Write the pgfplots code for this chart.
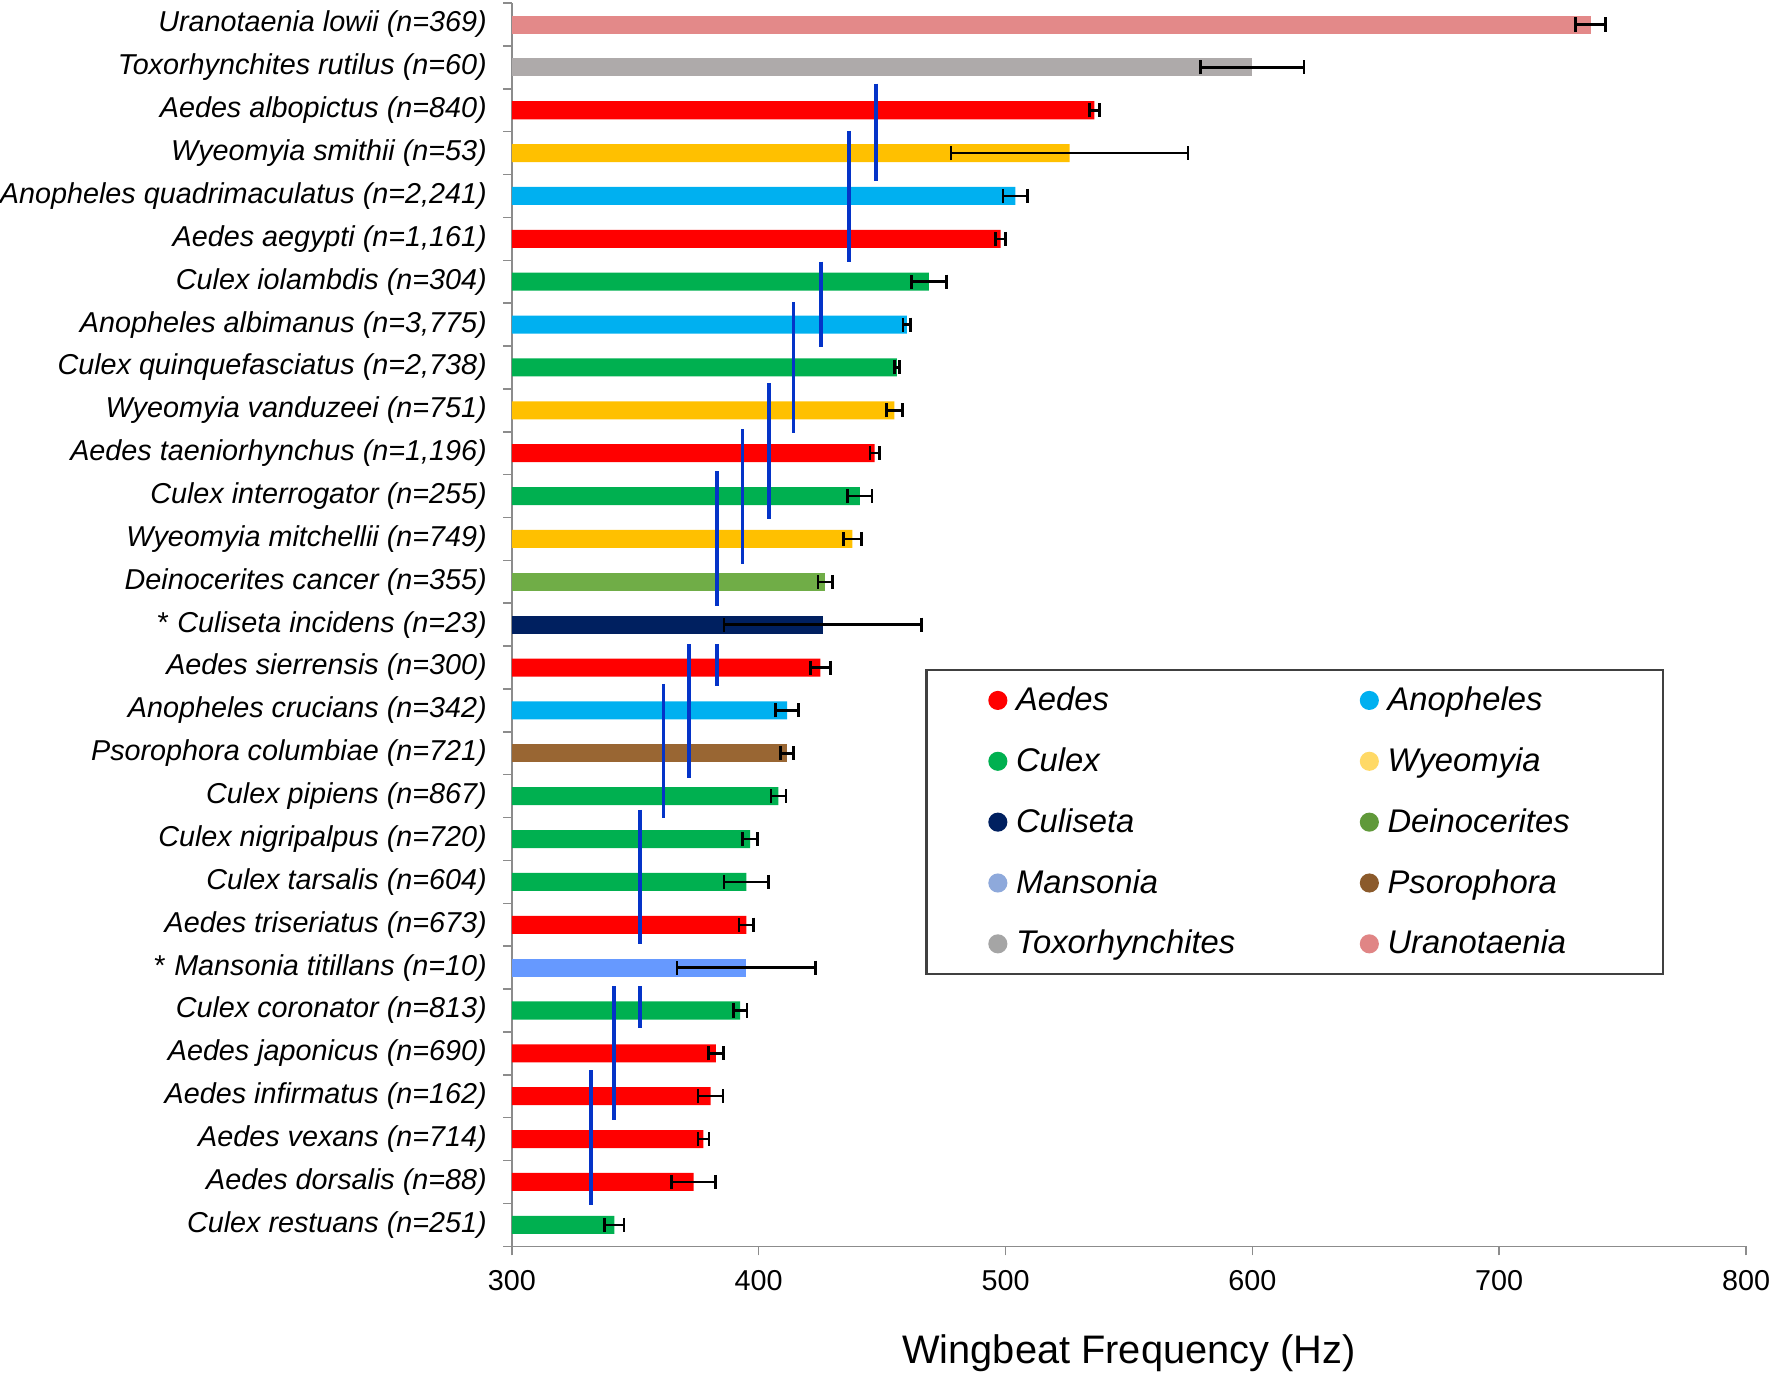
\documentclass[border=0pt]{standalone}
\usepackage{fontspec}
\setmainfont{Liberation Sans}
\usepackage{pgfplots}
\pgfplotsset{compat=1.18}
% bar colours
\definecolor{aedes}{HTML}{FF0000}
\definecolor{anoph}{HTML}{00B0F0}
\definecolor{culex}{HTML}{00B050}
\definecolor{wyeo}{HTML}{FFC000}
\definecolor{culis}{HTML}{002060}
\definecolor{deino}{HTML}{70AD47}
\definecolor{manso}{HTML}{6699FF}
\definecolor{psoro}{HTML}{996633}
\definecolor{toxo}{HTML}{AEAAAA}
\definecolor{urano}{HTML}{E38989}
% legend dots
\definecolor{wyeoL}{HTML}{FFD966}
\definecolor{deinoL}{HTML}{60993A}
\definecolor{mansoL}{HTML}{8EA9DB}
\definecolor{psoroL}{HTML}{8B5A2B}
\definecolor{toxoL}{HTML}{A5A5A5}
\definecolor{uranoL}{HTML}{E08585}
\definecolor{grpblue}{HTML}{0433C8}
\definecolor{axgray}{HTML}{8C8C8C}
\definecolor{legframe}{HTML}{404040}

\pgfplotsset{
  gbar/.style={xbar, bar shift=0pt, bar width=0.42, draw=none, fill=#1, forget plot,
    error bars/.cd, x dir=both, x explicit,
    error bar style={line width=0.75pt, black},
    error mark options={rotate=90, line width=0.75pt, black, mark size=2.1pt}},
  grpline/.style={grpblue, line width=1.1pt, forget plot},
  ldot/.style={legend image code/.code={\fill[#1] (2.5pt,0pt) circle[radius=2.5pt];}},
}

\begin{document}
\begin{tikzpicture}
\begin{axis}[
  width=369.1pt, height=371.8pt, scale only axis,
  xmin=300, xmax=800, ymin=-0.5, ymax=28.5,
  axis x line*=bottom, axis y line*=left,
  x axis line style={-, line width=0.45pt, color=axgray},
  y axis line style={-, line width=0.45pt, color=axgray},
  tick align=outside,
  major tick length=2.7pt, minor tick length=2.5pt,
  xtick={300,400,...,800},
  x tick style={axgray, line width=0.45pt},
  /pgf/number format/assume math mode=true,
  xticklabel style={font=\fontsize{8.6}{10}\selectfont, inner xsep=0pt, yshift=-0.95pt},
  ytick={0,...,28},
  minor ytick={-0.5,0.5,...,28.5},
  major y tick style={draw=none},
  minor y tick style={axgray, line width=0.45pt},
  yticklabel style={font=\fontsize{8.6}{10}\selectfont\itshape, inner xsep=0pt, xshift=-4.6pt},
  yticklabels={
    {Culex restuans (n=251)},
    {Aedes dorsalis (n=88)},
    {Aedes vexans (n=714)},
    {Aedes infirmatus (n=162)},
    {Aedes japonicus (n=690)},
    {Culex coronator (n=813)},
    {{\upshape *}\hspace{0.3em}Mansonia titillans (n=10)},
    {Aedes triseriatus (n=673)},
    {Culex tarsalis (n=604)},
    {Culex nigripalpus (n=720)},
    {Culex pipiens (n=867)},
    {Psorophora columbiae (n=721)},
    {Anopheles crucians (n=342)},
    {Aedes sierrensis (n=300)},
    {{\upshape *}\hspace{0.3em}Culiseta incidens (n=23)},
    {Deinocerites cancer (n=355)},
    {Wyeomyia mitchellii (n=749)},
    {Culex interrogator (n=255)},
    {Aedes taeniorhynchus (n=1,196)},
    {Wyeomyia vanduzeei (n=751)},
    {Culex quinquefasciatus (n=2,738)},
    {Anopheles albimanus (n=3,775)},
    {Culex iolambdis (n=304)},
    {Aedes aegypti (n=1,161)},
    {Anopheles quadrimaculatus (n=2,241)},
    {Wyeomyia smithii (n=53)},
    {Aedes albopictus (n=840)},
    {Toxorhynchites rutilus (n=60)},
    {Uranotaenia lowii (n=369)}},
  xlabel={Wingbeat Frequency (Hz)},
  xlabel style={font=\fontsize{11.9}{14}\selectfont, inner ysep=1.35pt, at={(axis description cs:0.5,0)}, anchor=center, yshift=-32pt},
  legend columns=2,
  legend cell align=left,
  legend style={at={(0.335,0.4645)}, anchor=north west, draw=legframe, line width=0.7pt, fill=white,
    inner xsep=18.5pt, inner ysep=4.5pt, column sep=0pt, row sep=9pt,
    font=\fontsize{9.8}{11}\selectfont\itshape,
    nodes={inner xsep=2.6pt, inner ysep=0pt, text height=7.6pt, text depth=1.6pt, text width=100.2pt, align=left},
    /tikz/column 4/.style={nodes={text width=61.2pt}}},
]
% Aedes
\addplot[gbar=aedes] table[x=f, y=y, x error=e] {
f y e
536 26 2
498 23 2
447 18 2
425 13 4
395 7 3
382.7 4 3
380.5 3 5
377.6 2 2.2
373.6 1 9
};
% Anopheles
\addplot[gbar=anoph] table[x=f, y=y, x error=e] {
f y e
504 24 5
460 21 1.5
411.5 12 4.7
};
% Culex
\addplot[gbar=culex] table[x=f, y=y, x error=e] {
f y e
469 22 7
456 20 1
441 17 5
408 10 3
396.5 9 3
395 8 9
392.5 5 2.8
341.5 0 4
};
% Wyeomyia
\addplot[gbar=wyeo] table[x=f, y=y, x error=e] {
f y e
526 25 48
455 19 3.3
438 16 3.7
};
% Culiseta
\addplot[gbar=culis] table[x=f, y=y, x error=e] {
f y e
426 14 40
};
% Deinocerites
\addplot[gbar=deino] table[x=f, y=y, x error=e] {
f y e
427 15 3
};
% Mansonia
\addplot[gbar=manso] table[x=f, y=y, x error=e] {
f y e
395 6 28
};
% Psorophora
\addplot[gbar=psoro] table[x=f, y=y, x error=e] {
f y e
411.5 11 2.6
};
% Toxorhynchites
\addplot[gbar=toxo] table[x=f, y=y, x error=e] {
f y e
600 27 21
};
% Uranotaenia
\addplot[gbar=urano] table[x=f, y=y, x error=e] {
f y e
737 28 6
};
% groups with no significant difference
\addplot[grpline] coordinates {(447.5,26.62) (447.5,24.35)};
\addplot[grpline] coordinates {(436.7,25.52) (436.7,22.47)};
\addplot[grpline] coordinates {(425.2,22.47) (425.2,20.48)};
\addplot[grpline] coordinates {(414.1,21.52) (414.1,18.46)};
\addplot[grpline] coordinates {(404.1,19.63) (404.1,16.47)};
\addplot[grpline] coordinates {(393.4,18.56) (393.4,15.42)};
\addplot[grpline] coordinates {(383.1,17.58) (383.1,14.43)};
\addplot[grpline] coordinates {(383.1,13.55) (383.1,12.57)};
\addplot[grpline] coordinates {(371.7,13.54) (371.7,10.42)};
\addplot[grpline] coordinates {(361.5,12.62) (361.5,9.50)};
\addplot[grpline] coordinates {(352.0,9.68) (352.0,6.54)};
\addplot[grpline] coordinates {(352.0,5.57) (352.0,4.60)};
\addplot[grpline] coordinates {(341.5,5.57) (341.5,2.44)};
\addplot[grpline] coordinates {(332.0,3.61) (332.0,0.46)};
% legend
\addlegendimage{ldot=aedes}\addlegendentry{Aedes}
\addlegendimage{ldot=anoph}\addlegendentry{Anopheles}
\addlegendimage{ldot=culex}\addlegendentry{Culex}
\addlegendimage{ldot=wyeoL}\addlegendentry{Wyeomyia}
\addlegendimage{ldot=culis}\addlegendentry{Culiseta}
\addlegendimage{ldot=deinoL}\addlegendentry{Deinocerites}
\addlegendimage{ldot=mansoL}\addlegendentry{Mansonia}
\addlegendimage{ldot=psoroL}\addlegendentry{Psorophora}
\addlegendimage{ldot=toxoL}\addlegendentry{Toxorhynchites}
\addlegendimage{ldot=uranoL}\addlegendentry{Uranotaenia}
\end{axis}
\end{tikzpicture}
\end{document}
